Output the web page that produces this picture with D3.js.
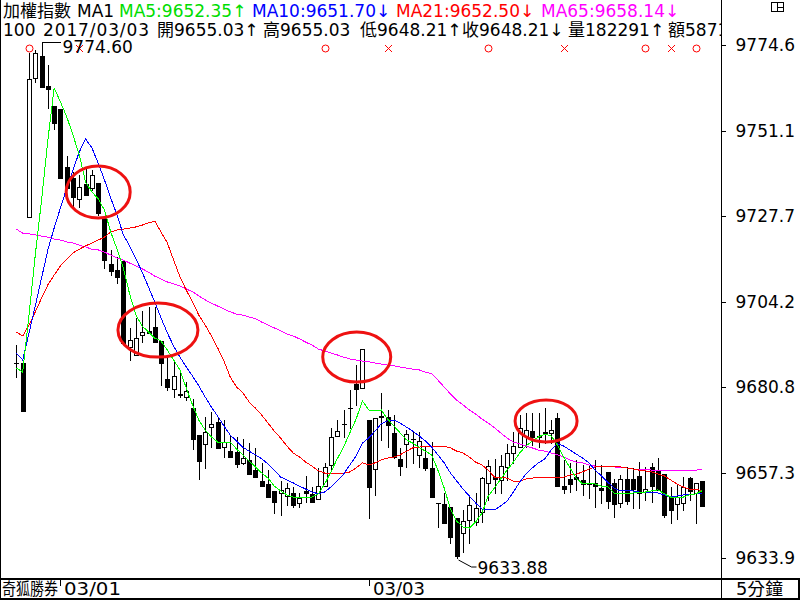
<!DOCTYPE html>
<html>
<head>
<meta charset="utf-8">
<script src="https://cdn.jsdelivr.net/npm/d3@7"></script>
<style>
body { margin: 0; background: #fff; }
svg { display: block; font-family: "DejaVu Sans", "Noto Sans CJK TC", sans-serif; }
</style>
</head>
<body>
<svg width="800" height="600"></svg>
<script>
// 5 minute bars, 03/01 close -> 03/03
const opens = [
 9687.38, 9687.38, 9727.42, 9765.55, 9771.58, 9763.35, 9757.87, 9757.04, 9741.14, 9738.12,
 9732.36, 9736.47, 9735.38, 9736.75, 9727.15, 9714.53, 9712.89, 9715.36, 9691.77, 9689.57,
 9695.06, 9696.16, 9697.25, 9693.41, 9682.99, 9680.25, 9678.88, 9678.05, 9675.04, 9667.63,
 9665.16, 9669.83, 9671.20, 9664.34, 9663.24, 9662.97, 9659.95, 9660.78, 9658.03, 9655.02,
 9654.19, 9652.27, 9651.72, 9650.90, 9651.72, 9648.98, 9652.27, 9651.45, 9650.08, 9653.64,
 9659.40, 9667.36, 9670.65, 9675.04, 9681.62, 9680.52, 9671.75, 9658.31, 9672.84, 9672.57,
 9668.18, 9661.05, 9665.16, 9666.54, 9662.15, 9661.32, 9658.58, 9648.98, 9648.71, 9647.89,
 9644.87, 9640.75, 9644.32, 9643.77, 9646.51, 9654.47, 9656.11, 9655.29, 9658.86, 9662.70,
 9664.34, 9667.36, 9668.73, 9667.36, 9668.18, 9668.18, 9672.30, 9653.64, 9655.56, 9656.11,
 9655.29, 9654.19, 9654.47, 9653.10, 9657.48, 9654.47, 9648.98, 9655.56, 9655.56, 9656.39,
 9652.00, 9658.86, 9658.03, 9656.94, 9650.90, 9648.71, 9648.98, 9655.84, 9651.72, 9655.03
];
const highs = [
 9692.32, 9687.38, 9772.40, 9773.23, 9774.60, 9769.11, 9757.87, 9757.04, 9744.15, 9739.77,
 9738.94, 9740.86, 9740.31, 9736.75, 9727.15, 9718.37, 9716.45, 9715.36, 9696.98, 9699.72,
 9701.64, 9702.74, 9702.74, 9693.41, 9689.03, 9688.20, 9684.91, 9682.17, 9677.51, 9667.63,
 9672.57, 9673.94, 9672.57, 9671.75, 9667.63, 9667.08, 9666.54, 9665.44, 9664.07, 9659.95,
 9658.03, 9652.27, 9655.02, 9654.47, 9653.37, 9651.72, 9656.39, 9653.37, 9658.58, 9659.95,
 9669.55, 9671.75, 9674.49, 9679.97, 9686.83, 9691.22, 9671.75, 9672.30, 9679.15, 9674.49,
 9673.12, 9664.07, 9669.00, 9668.46, 9668.46, 9664.34, 9665.71, 9648.98, 9651.72, 9647.89,
 9644.87, 9647.06, 9651.18, 9651.72, 9656.11, 9660.78, 9661.05, 9662.15, 9665.16, 9668.46,
 9673.12, 9673.67, 9673.67, 9673.67, 9675.04, 9671.75, 9673.67, 9660.78, 9659.95, 9660.78,
 9659.40, 9659.40, 9660.78, 9659.40, 9657.48, 9655.56, 9656.66, 9658.86, 9658.58, 9660.23,
 9658.86, 9659.95, 9661.32, 9656.94, 9653.37, 9653.92, 9656.11, 9656.11, 9654.47, 9655.03
];
const lows = [
 9683.54, 9674.21, 9727.42, 9764.45, 9763.08, 9757.32, 9751.56, 9738.12, 9735.38, 9730.17,
 9730.17, 9733.46, 9734.83, 9727.97, 9713.44, 9711.52, 9709.32, 9692.87, 9688.20, 9689.57,
 9693.14, 9695.61, 9693.14, 9681.35, 9679.97, 9678.05, 9678.05, 9677.23, 9663.79, 9655.56,
 9658.58, 9664.34, 9664.07, 9661.60, 9661.60, 9658.86, 9659.68, 9656.94, 9656.11, 9653.64,
 9650.63, 9646.24, 9645.69, 9648.43, 9647.89, 9647.89, 9649.26, 9649.26, 9650.08, 9653.64,
 9658.03, 9667.36, 9667.08, 9669.55, 9675.86, 9680.52, 9644.87, 9651.18, 9666.26, 9664.34,
 9661.32, 9656.66, 9658.86, 9659.95, 9658.86, 9658.03, 9650.63, 9642.40, 9643.50, 9638.01,
 9633.88, 9635.54, 9638.01, 9642.95, 9643.77, 9649.80, 9651.72, 9651.72, 9655.29, 9659.95,
 9664.34, 9664.34, 9664.89, 9664.34, 9665.44, 9665.44, 9653.64, 9651.72, 9652.00, 9652.55,
 9651.18, 9650.35, 9647.89, 9648.98, 9647.61, 9645.14, 9647.89, 9648.71, 9647.61, 9647.61,
 9649.80, 9649.26, 9652.55, 9645.14, 9643.50, 9644.59, 9647.06, 9649.80, 9643.50, 9648.21
];
const closes = [
 9687.38, 9674.21, 9765.27, 9772.40, 9763.08, 9762.53, 9753.20, 9738.12, 9735.38, 9732.91,
 9735.65, 9733.46, 9738.94, 9728.52, 9715.63, 9712.61, 9710.97, 9692.87, 9693.69, 9694.24,
 9695.88, 9695.61, 9693.14, 9687.38, 9680.80, 9683.81, 9678.60, 9679.70, 9666.54, 9660.50,
 9668.46, 9670.65, 9664.07, 9665.71, 9661.60, 9659.68, 9661.32, 9656.94, 9656.11, 9653.64,
 9650.63, 9649.26, 9652.55, 9653.10, 9648.43, 9650.35, 9651.72, 9649.26, 9653.64, 9658.86,
 9667.08, 9668.73, 9670.65, 9675.04, 9680.25, 9691.22, 9653.37, 9672.30, 9672.57, 9670.38,
 9661.60, 9659.13, 9667.91, 9666.54, 9665.99, 9658.58, 9650.63, 9648.98, 9643.50, 9639.66,
 9634.50, 9644.05, 9648.43, 9647.61, 9655.84, 9659.13, 9655.56, 9659.13, 9662.70, 9664.62,
 9669.55, 9669.00, 9667.08, 9667.08, 9668.46, 9669.00, 9653.64, 9652.82, 9654.19, 9655.56,
 9654.19, 9654.19, 9653.64, 9652.55, 9649.53, 9648.71, 9655.56, 9649.53, 9652.82, 9651.72,
 9652.82, 9653.64, 9652.55, 9645.69, 9647.06, 9650.63, 9653.37, 9652.27, 9654.47, 9648.21
];

// moving averages as shown on the chart
const ma5 = [
 9686.0, 9684.9, 9700.5, 9717.0, 9732.1, 9748.5, 9762.8, 9759.0, 9754.9, 9749.9,
 9744.4, 9737.0, 9734.3, 9732.4, 9729.3, 9723.3, 9718.6, 9713.4, 9706.3, 9700.5,
 9697.5, 9695.9, 9694.2, 9693.4, 9690.9, 9688.2, 9685.5, 9680.5, 9675.9, 9671.7,
 9669.0, 9667.1, 9665.7, 9665.7, 9665.7, 9663.8, 9662.2, 9660.5, 9658.9, 9657.2,
 9655.8, 9653.6, 9652.3, 9651.2, 9650.6, 9650.6, 9650.6, 9650.6, 9651.5, 9654.2,
 9657.5, 9661.1, 9664.3, 9668.2, 9672.0, 9677.0, 9674.5, 9674.2, 9674.5, 9672.0,
 9670.1, 9668.2, 9666.3, 9665.4, 9664.3, 9663.2, 9662.2, 9658.0, 9653.1, 9647.3,
 9644.0, 9642.4, 9642.1, 9643.8, 9646.2, 9650.9, 9653.1, 9655.6, 9658.0, 9660.2,
 9662.7, 9664.6, 9666.0, 9667.1, 9667.9, 9667.4, 9664.9, 9661.6, 9658.6, 9655.8,
 9654.2, 9654.2, 9654.2, 9653.6, 9653.4, 9651.7, 9651.7, 9651.7, 9651.7, 9652.0,
 9652.0, 9652.3, 9652.6, 9651.5, 9650.6, 9650.6, 9650.6, 9651.2, 9651.5, 9652.35
];
const ma10 = [
 9690.1, 9688.2, 9695.6, 9703.0, 9710.7, 9718.4, 9724.4, 9729.9, 9735.4, 9740.3,
 9745.3, 9748.8, 9746.4, 9742.2, 9737.6, 9732.6, 9728.0, 9722.5, 9719.5, 9715.9,
 9712.3, 9708.2, 9704.1, 9699.7, 9695.6, 9692.0, 9689.0, 9686.3, 9683.8, 9681.1,
 9678.1, 9675.3, 9672.8, 9670.1, 9667.6, 9666.0, 9664.3, 9663.2, 9662.2, 9661.1,
 9659.7, 9658.0, 9656.1, 9655.3, 9654.5, 9653.6, 9652.8, 9652.0, 9651.5, 9652.0,
 9653.4, 9655.0, 9656.9, 9659.4, 9661.9, 9665.4, 9666.8, 9668.7, 9670.7, 9671.5,
 9671.7, 9670.9, 9669.8, 9668.7, 9667.4, 9666.0, 9664.3, 9662.2, 9660.0, 9657.2,
 9655.0, 9652.8, 9650.9, 9649.0, 9647.3, 9647.1, 9647.1, 9648.2, 9649.5, 9652.0,
 9654.7, 9656.9, 9658.6, 9660.0, 9661.1, 9663.5, 9665.2, 9664.6, 9663.5, 9662.4,
 9661.3, 9660.0, 9658.0, 9656.4, 9654.7, 9653.1, 9652.3, 9652.3, 9652.3, 9652.0,
 9652.0, 9652.0, 9651.7, 9651.2, 9650.6, 9650.9, 9651.2, 9651.2, 9651.5, 9651.70
];
const ma21 = [
 9695.9, 9694.8, 9697.8, 9701.4, 9705.2, 9708.8, 9711.5, 9714.0, 9715.9, 9717.6,
 9718.6, 9719.5, 9720.3, 9721.1, 9721.9, 9723.3, 9723.9, 9724.1, 9724.4, 9724.7,
 9725.2, 9725.8, 9726.3, 9723.3, 9720.3, 9715.6, 9711.0, 9707.4, 9704.1, 9700.5,
 9697.8, 9694.8, 9691.5, 9687.9, 9683.5, 9680.8, 9679.2, 9676.7, 9675.0, 9673.1,
 9670.9, 9668.7, 9666.8, 9664.6, 9662.7, 9661.6, 9660.2, 9659.1, 9657.8, 9657.2,
 9657.2, 9657.2, 9657.2, 9657.5, 9658.6, 9660.0, 9659.4, 9660.0, 9660.8, 9661.3,
 9661.6, 9662.2, 9663.2, 9664.1, 9664.3, 9664.6, 9664.6, 9664.6, 9664.6, 9664.1,
 9663.2, 9662.7, 9661.6, 9660.2, 9659.4, 9658.0, 9656.1, 9656.1, 9655.8, 9655.0,
 9655.0, 9655.6, 9655.8, 9656.1, 9656.1, 9656.1, 9656.1, 9656.1, 9656.7, 9656.9,
 9657.5, 9658.3, 9658.9, 9659.1, 9659.1, 9659.1, 9658.9, 9658.6, 9658.3, 9658.0,
 9657.8, 9657.5, 9656.9, 9656.4, 9655.3, 9654.2, 9653.4, 9652.8, 9652.6, 9652.50
];
const ma65 = [
 9724.1, 9723.0, 9722.8, 9722.5, 9722.2, 9721.9, 9721.4, 9721.1, 9720.6, 9720.3,
 9719.7, 9719.2, 9718.6, 9718.4, 9717.8, 9717.0, 9716.2, 9715.6, 9714.8, 9714.0,
 9713.2, 9712.3, 9711.2, 9710.4, 9709.6, 9709.1, 9708.5, 9707.7, 9706.9, 9705.8,
 9704.7, 9703.8, 9703.0, 9702.2, 9701.4, 9700.8, 9700.5, 9700.0, 9699.5, 9698.6,
 9697.8, 9697.0, 9696.2, 9695.3, 9694.8, 9694.0, 9693.1, 9692.3, 9691.2, 9690.7,
 9690.1, 9689.6, 9689.0, 9688.5, 9688.2, 9687.9, 9687.7, 9687.4, 9687.1, 9686.8,
 9686.6, 9686.3, 9686.0, 9685.7, 9685.5, 9684.9, 9684.4, 9682.7, 9680.8, 9678.9,
 9677.2, 9675.9, 9674.5, 9673.4, 9672.0, 9670.9, 9669.6, 9668.2, 9666.8, 9665.7,
 9665.2, 9664.6, 9664.1, 9663.5, 9663.2, 9662.7, 9662.2, 9661.6, 9660.8, 9660.2,
 9660.0, 9659.4, 9659.1, 9659.1, 9658.9, 9658.9, 9658.6, 9658.6, 9658.3, 9658.3,
 9658.3, 9658.0, 9658.0, 9658.0, 9658.0, 9658.0, 9658.0, 9658.0, 9658.0, 9658.14
];

const axisTicks = [9774.6, 9751.1, 9727.7, 9704.2, 9680.8, 9657.3, 9633.9];
const maxBar = 4, minBar = 70;
const signalBars = [2, 10, 49, 59, 75, 87, 100, 104, 108];
const signalTypes = ["o", "x", "o", "x", "o", "x", "o", "x", "o"];
const circledBars = [13, 22.5, 54.1, 84.2];
const circledPrices = [9734.3, 9696.4, 9689.0, 9671.5];
const dateBars = [7, 56];
const dateLabels = ["03/01", "03/03"];

const headLine1 = ["加權指數", "MA1", "MA5:9652.35↑", "MA10:9651.70↓", "MA21:9652.50↓", "MA65:9658.14↓"];
const headLine2 = ["100", "2017/03/03", "開9655.03↑", "高9655.03", "低9648.21↑", "收9648.21↓", "量182291↑", "額5871"];

const svg = d3.select("svg");
const plotRight = 721;

const x = d3.scaleLinear().domain([0, 109]).range([16.4, 702.1]);
const y = d3.scaleLinear().domain([9633.9, 9774.6]).range([558, 45]);
const px = i => Math.round(x(i));
const py = v => Math.round(y(v));

svg.append("defs").append("clipPath").attr("id", "plotclip")
	.append("rect").attr("x", 0).attr("y", 0).attr("width", plotRight).attr("height", 578);

const plot = svg.append("g").attr("clip-path", "url(#plotclip)");

const bars = opens.map((o, i) => ({i: i, o: o, h: highs[i], l: lows[i], c: closes[i]}));

// wicks
plot.append("g")
	.selectAll("line")
	.data(bars)
	.join("line")
		.attr("x1", d => px(d.i) + 0.5)
		.attr("x2", d => px(d.i) + 0.5)
		.attr("y1", d => py(d.h))
		.attr("y2", d => py(d.l) + 1)
		.attr("stroke", "#000")
		.attr("shape-rendering", "crispEdges");

// black bodies
plot.append("g")
	.selectAll("rect")
	.data(bars.filter(d => d.c < d.o))
	.join("rect")
		.attr("x", d => px(d.i) - 2)
		.attr("y", d => py(d.o))
		.attr("width", 5)
		.attr("height", d => Math.max(py(d.c) - py(d.o), 1) + 1)
		.attr("fill", "#000")
		.attr("shape-rendering", "crispEdges");

// white bodies
plot.append("g")
	.selectAll("rect")
	.data(bars.filter(d => d.c > d.o))
	.join("rect")
		.attr("x", d => px(d.i) - 1.5)
		.attr("y", d => py(d.c) + 0.5)
		.attr("width", 4)
		.attr("height", d => Math.max(py(d.o) - py(d.c), 1))
		.attr("fill", "#fff")
		.attr("stroke", "#000")
		.attr("shape-rendering", "crispEdges");

// doji
plot.append("g")
	.selectAll("line")
	.data(bars.filter(d => d.c === d.o))
	.join("line")
		.attr("x1", d => px(d.i) - 2)
		.attr("x2", d => px(d.i) + 3)
		.attr("y1", d => py(d.o) + 0.5)
		.attr("y2", d => py(d.o) + 0.5)
		.attr("stroke", "#000")
		.attr("shape-rendering", "crispEdges");

// moving averages
const line = d3.line().x((d, i) => x(i)).y(d => y(d));
[[ma65, "#ff00ff"], [ma21, "#ff0000"], [ma10, "#0000ff"], [ma5, "#00ff00"]].forEach(([s, col]) => {
	plot.append("path")
		.attr("d", line(s))
		.attr("fill", "none")
		.attr("stroke", col)
		.attr("stroke-width", 1)
		.attr("shape-rendering", "crispEdges");
});

// red circled zones
plot.append("g")
	.selectAll("ellipse")
	.data(circledBars)
	.join("ellipse")
		.attr("cx", d => x(d))
		.attr("cy", (d, i) => y(circledPrices[i]))
		.attr("rx", (d, i) => [32, 40, 34, 31][i])
		.attr("ry", (d, i) => [26, 27, 25, 21][i])
		.attr("fill", "none")
		.attr("stroke", "#ee1111")
		.attr("stroke-width", 3);

// buy / sell signal marks
const sig = plot.append("g").attr("stroke", "#ff0000").attr("fill", "none");
signalBars.forEach((b, k) => {
	const cx = px(b) + 0.5, cy = 48.5;
	if (signalTypes[k] === "o") {
		sig.append("circle").attr("cx", cx).attr("cy", cy).attr("r", 3.5);
	} else {
		sig.append("path").attr("d", `M${cx - 3.5},${cy - 3.5}L${cx + 3.5},${cy + 3.5}M${cx + 3.5},${cy - 3.5}L${cx - 3.5},${cy + 3.5}`);
	}
});

// high / low markers
const hx = px(maxBar) + 0.5, hy = py(highs[maxBar]);
plot.append("path")
	.attr("d", `M${hx},${hy + 9}V${hy - 2.5}H${hx + 18}`)
	.attr("fill", "none").attr("stroke", "#000").attr("shape-rendering", "crispEdges");
plot.append("text")
	.attr("x", hx + 20).attr("y", hy + 8)
	.attr("font-size", 17)
	.text(d3.format(".2f")(highs[maxBar]));

const lx = px(minBar) + 0.5, ly = py(lows[minBar]);
plot.append("path")
	.attr("d", `M${lx + 1},${ly + 2}L${lx + 14},${ly + 9}H${lx + 19}`)
	.attr("fill", "none").attr("stroke", "#000");
plot.append("text")
	.attr("x", lx + 20).attr("y", ly + 16)
	.attr("font-size", 17)
	.text(d3.format(".2f")(lows[minBar]));

// header
const head1X = [3, 77, 119, 252, 396, 541];
const head1C = ["#000", "#000", "#00dd00", "#0000ff", "#ff0000", "#ff00ff"];
const h1 = plot.append("text").attr("y", 17).attr("font-size", 17);
headLine1.forEach((t, k) => h1.append("tspan").attr("x", head1X[k]).attr("fill", head1C[k]).text(t));

const head2X = [3, 43, 157, 263, 360, 462, 568, 668];
headLine2.forEach((t, k) => {
	const t2 = plot.append("text")
		.attr("x", head2X[k]).attr("y", 36)
		.attr("font-size", 17).attr("fill", "#000")
		.text(t);
	if (k === 1) t2.attr("textLength", 106).attr("lengthAdjust", "spacing");
});

// price axis
const yAxis = d3.axisRight(y)
	.tickValues(axisTicks)
	.tickFormat(d3.format(".1f"))
	.tickSize(4)
	.tickPadding(10);
const ag = svg.append("g")
	.attr("transform", `translate(${plotRight + 0.5},0)`)
	.call(yAxis);
ag.select(".domain").remove();
ag.selectAll("line").attr("shape-rendering", "crispEdges");
ag.selectAll("text").attr("font-size", 17).attr("font-family", "DejaVu Sans").attr("fill", "#000");

// frame
const frame = svg.append("g").attr("stroke", "#000").attr("shape-rendering", "crispEdges");
frame.append("line").attr("x1", 0.5).attr("x2", 0.5).attr("y1", 0).attr("y2", 599);
frame.append("line").attr("x1", plotRight + 0.5).attr("x2", plotRight + 0.5).attr("y1", 0).attr("y2", 599);
frame.append("line").attr("x1", 0).attr("x2", 800).attr("y1", 578.5).attr("y2", 578.5).attr("stroke-width", 2);
frame.append("line").attr("x1", 0).attr("x2", 800).attr("y1", 598.5).attr("y2", 598.5).attr("stroke-width", 2);
frame.append("line").attr("x1", 798.5).attr("x2", 798.5).attr("y1", 578).attr("y2", 599).attr("stroke-width", 2);

// window icon
const icon = svg.append("g").attr("stroke", "#000").attr("fill", "none").attr("shape-rendering", "crispEdges");
icon.append("rect").attr("x", 771.5).attr("y", 2.5).attr("width", 12).attr("height", 9);
icon.append("line").attr("x1", 777.5).attr("x2", 777.5).attr("y1", 2.5).attr("y2", 11.5);
icon.append("line").attr("x1", 777.5).attr("x2", 783.5).attr("y1", 7.5).attr("y2", 7.5);

// bottom row
svg.append("text")
	.attr("x", 2).attr("y", 595).attr("font-size", 17)
	.attr("textLength", 56).attr("lengthAdjust", "spacingAndGlyphs")
	.text("奇狐勝券");
const dg = svg.append("g");
dateBars.forEach((b, k) => {
	const dx = px(b);
	dg.append("line").attr("x1", dx + 0.5).attr("x2", dx + 0.5).attr("y1", 580).attr("y2", 586)
		.attr("stroke", "#000").attr("shape-rendering", "crispEdges");
	dg.append("text")
		.attr("x", dx + 4).attr("y", 595).attr("font-size", 17)
		.attr("textLength", k === 0 ? 57 : 52).attr("lengthAdjust", "spacingAndGlyphs")
		.text(dateLabels[k]);
});
svg.append("text")
	.attr("x", 736).attr("y", 595).attr("font-size", 17)
	.attr("textLength", 47).attr("lengthAdjust", "spacingAndGlyphs")
	.text("5分鐘");
</script>
</body>
</html>
